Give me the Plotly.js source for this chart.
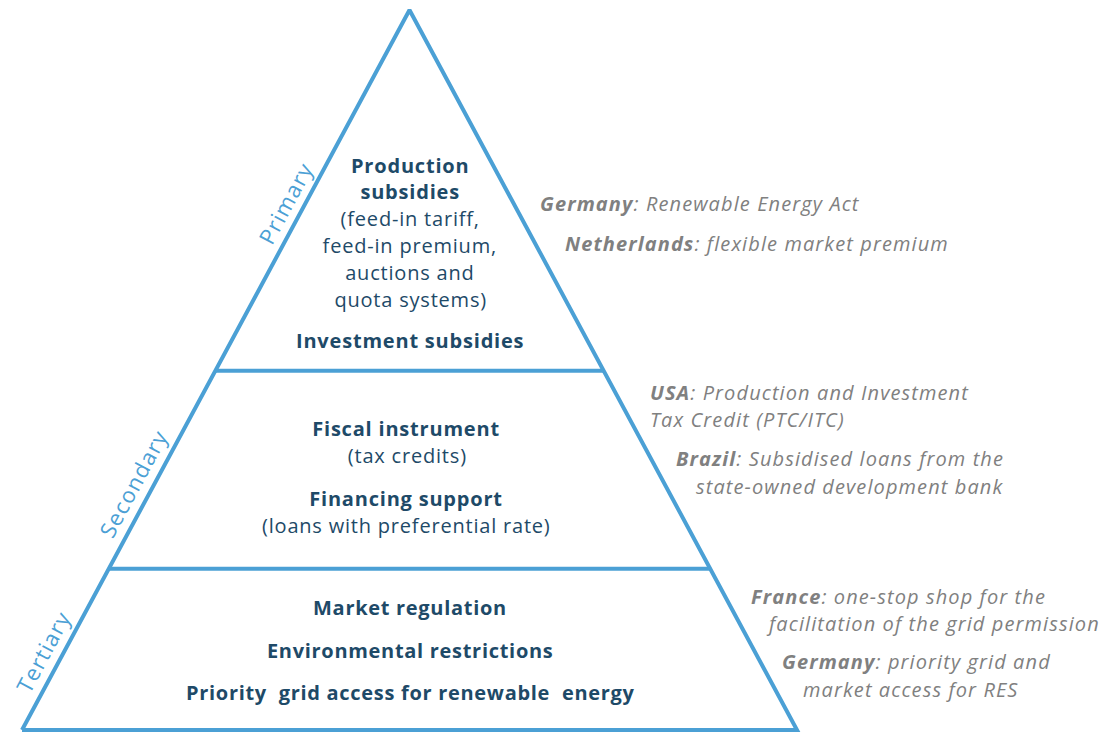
<!DOCTYPE html>
<html>
<head>
<meta charset="utf-8">
<script src="https://cdn.plot.ly/plotly-3.0.1.min.js"></script>
<style>html,body{margin:0;padding:0;background:#fff;}#chart{width:1109px;height:733px;}</style>
</head>
<body>
<div id="chart"></div>
<script>
// ---- data ----
const tierNames = ['Tertiary', 'Secondary', 'Primary'];
const tierBoundaries = [0.224, 0.499];            // share of pyramid height where tiers meet
const primaryItems = ['<b>Production</b>', '<b>subsidies</b>', '(feed-in tariff,', 'feed-in premium,', 'auctions and', 'quota systems)', '<b>Investment subsidies</b>'];
const secondaryItems = ['<b>Fiscal instrument</b>', '(tax credits)', '<b>Financing support</b>', '(loans with preferential rate)'];
const tertiaryItems = ['<b>Market regulation</b>', '<b>Environmental restrictions</b>', '<b>Priority  grid access for renewable  energy</b>'];
const primaryExamples = ['<b>Germany</b>: Renewable Energy Act', '<b>Netherlands</b>: flexible market premium'];
const secondaryExamples = ['<b>USA</b>: Production and Investment', 'Tax Credit (PTC/ITC)', '<b>Brazil</b>: Subsidised loans from the', 'state-owned development bank'];
const tertiaryExamples = ['<b>France</b>: one-stop shop for the', 'facilitation of the grid permission', '<b>Germany</b>: priority grid and', 'market access for RES'];

// ---- styling / layout helpers ----
const W = 1109, H = 733;
const BLUE = '#4ba0d5', NAVY = '#1e4a68', GREY = '#808080';
const FONT = 'Open Sans, Lato, sans-serif';
const px = x => x / W;
const py = y => 1 - y / H;

// pyramid geometry in unit space: base half-width 1 at level 0, apex at level 1
const traces = [];
traces.push({x: [-1, 0, 1, -1], y: [0, 1, 0, 0], mode: 'lines', line: {color: BLUE, width: 4}, hoverinfo: 'skip', showlegend: false});
tierBoundaries.forEach(h => {
  traces.push({x: [-(1 - h), 1 - h], y: [h, h], mode: 'lines', line: {color: BLUE, width: 4}, hoverinfo: 'skip', showlegend: false});
});

const annotations = [];
const spacing = [];
function addLines(items, x, ys, opts, ls) {
  items.forEach((t, i) => {
    annotations.push(Object.assign({text: t, xref: 'paper', yref: 'paper', x: px(x[i]), y: py(ys[i]),
      showarrow: false, yanchor: 'middle'}, opts));
    spacing.push(ls);
  });
}
const centerOpts = {xanchor: 'center', align: 'center', font: {family: FONT, size: 20, color: NAVY}};
addLines(primaryItems, [410,410,410,410,410,410,410], [165, 192, 218, 245, 272, 299, 340], centerOpts, '0.8px');
addLines(secondaryItems, [406,407,406,406], [428, 456, 498, 525], centerOpts, '0.8px');
addLines(tertiaryItems, [410,410,410], [607, 650, 692], centerOpts, '0.7px');

const exOpts = {xanchor: 'left', align: 'left', font: {family: FONT, size: 20, color: GREY}};
function italic(arr) { return arr.map(t => '<i>' + t + '</i>'); }
addLines(italic(primaryExamples), [538, 563], [204, 243], exOpts, '1.1px');
addLines(italic(secondaryExamples), [648, 648, 674, 694], [392, 419, 458, 486], exOpts, '1.1px');
addLines(italic(tertiaryExamples), [749, 764, 780, 801], [596, 623, 661, 689], exOpts, '1.1px');

// tier labels along the left side
const labelPos = [[43, 651], [133, 483], [285, 203]];
tierNames.forEach((n, i) => {
  annotations.push({text: n, xref: 'paper', yref: 'paper', x: px(labelPos[i][0]), y: py(labelPos[i][1]),
    xanchor: 'center', yanchor: 'middle', align: 'center', showarrow: false, textangle: -61.7,
    font: {family: FONT, size: 22, color: BLUE}});
  spacing.push('1.2px');
});

// axis ranges map unit pyramid onto the page (base at 730px, apex at 10px, x 22..797px)
const yr0 = -3 / 720, yr1 = 1 + 10 / 720;
const xc = 409.5, xh = 387.5;
const layout = {
  width: W, height: H,
  margin: {l: 0, r: 0, t: 0, b: 0},
  paper_bgcolor: '#fff', plot_bgcolor: '#fff',
  xaxis: {range: [-xc / xh, (W - xc) / xh], visible: false, fixedrange: true},
  yaxis: {range: [yr0, yr1], visible: false, fixedrange: true},
  annotations: annotations,
  showlegend: false
};
Plotly.newPlot('chart', traces, layout, {displayModeBar: false, staticPlot: true}).then(gd => {
  gd.querySelectorAll('.annotation').forEach(a => {
    const idx = +a.getAttribute('data-index');
    const t = a.querySelector('text.annotation-text');
    if (t && spacing[idx]) t.style.letterSpacing = spacing[idx];
  });
});
</script>
</body>
</html>
